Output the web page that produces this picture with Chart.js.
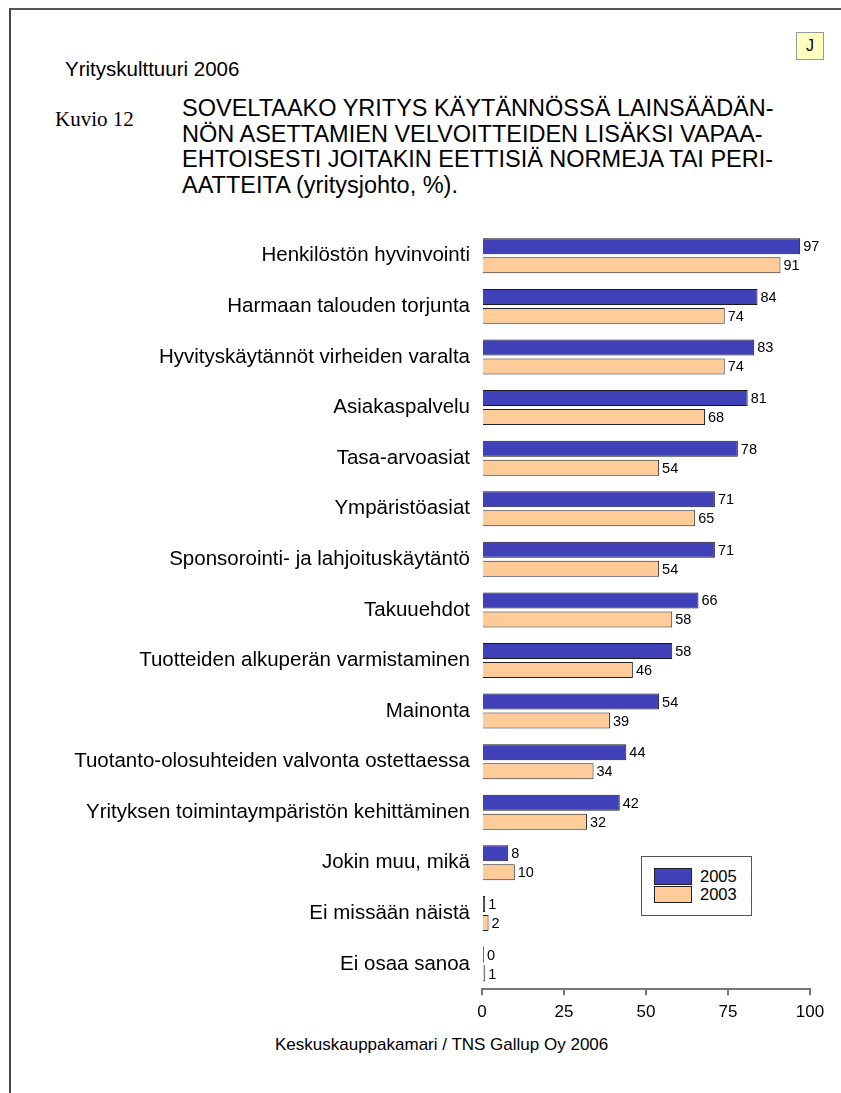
<!DOCTYPE html>
<html>
<head>
<meta charset="utf-8">
<script src="https://cdn.jsdelivr.net/npm/chart.js@4.4.1/dist/chart.umd.min.js"></script>
<style>
  html, body { margin: 0; padding: 0; background: #fff; }
  body { width: 841px; height: 1093px; position: relative; overflow: hidden;
         font-family: "Liberation Sans", Arial, sans-serif; color: #000; }
  .page { position: absolute; left: 9px; top: 8px; width: 840px; height: 1100px;
          border-top: 2px solid #555; border-left: 2px solid #444; }
  .txt { position: absolute; white-space: nowrap; }
  #series { left: 65px; top: 59px; font-size: 20.5px; line-height: 20.5px; }
  #kuvio { left: 55px; top: 109px; font-family: "Liberation Serif", "Times New Roman", serif;
           font-size: 21px; line-height: 21px; }
  #title { left: 182px; top: 96px; font-size: 23.5px; line-height: 25.7px; }
  #footer { left: 275px; top: 1036px; font-size: 17px; line-height: 17px; }
  #jbox { position: absolute; left: 796px; top: 32px; width: 26px; height: 26px;
          background: #ffffc0; border: 1px solid #999; font-size: 16px;
          line-height: 26px; text-align: center; }
  #legend { position: absolute; left: 641px; top: 856px; width: 109px; height: 58px;
            border: 1.5px solid #555; background: #fff; }
  .sw { position: absolute; left: 12px; width: 36px; height: 15px; border: 1px solid #222; }
  .lt { position: absolute; left: 58px; font-size: 16.5px; line-height: 17px; }
  #chart { position: absolute; left: 0; top: 0; }
</style>
</head>
<body>
<div class="page"></div>
<div class="txt" id="series">Yrityskulttuuri 2006</div>
<div class="txt" id="kuvio">Kuvio 12</div>
<div class="txt" id="title">SOVELTAAKO YRITYS KÄYTÄNNÖSSÄ LAINSÄÄDÄN-<br>NÖN ASETTAMIEN VELVOITTEIDEN LISÄKSI VAPAA-<br>EHTOISESTI JOITAKIN EETTISIÄ NORMEJA TAI PERI-<br>AATTEITA (yritysjohto, %).</div>
<div id="jbox">J</div>
<canvas id="chart" width="841" height="1030"></canvas>
<div id="legend">
  <div class="sw" style="top:11px;background:#4040b8"></div>
  <div class="lt" style="top:11px">2005</div>
  <div class="sw" style="top:29px;background:#ffcc99"></div>
  <div class="lt" style="top:29px">2003</div>
</div>
<div class="txt" id="footer">Keskuskauppakamari / TNS Gallup Oy 2006</div>

<script>
const categories = [
  'Henkilöstön hyvinvointi',
  'Harmaan talouden torjunta',
  'Hyvityskäytännöt virheiden varalta',
  'Asiakaspalvelu',
  'Tasa-arvoasiat',
  'Ympäristöasiat',
  'Sponsorointi- ja lahjoituskäytäntö',
  'Takuuehdot',
  'Tuotteiden alkuperän varmistaminen',
  'Mainonta',
  'Tuotanto-olosuhteiden valvonta ostettaessa',
  'Yrityksen toimintaympäristön kehittäminen',
  'Jokin muu, mikä',
  'Ei missään näistä',
  'Ei osaa sanoa'
];
const values2005 = [97, 84, 83, 81, 78, 71, 71, 66, 58, 54, 44, 42, 8, 1, 0];
const values2003 = [91, 74, 74, 68, 54, 65, 54, 58, 46, 39, 34, 32, 10, 2, 1];
const xTicks = [0, 25, 50, 75, 100];

const fontFamily = '"Liberation Sans", Arial, sans-serif';

// arvot palkkien perään
const valueLabels = {
  id: 'valueLabels',
  afterDatasetsDraw(chart) {
    const ctx = chart.ctx;
    ctx.save();
    ctx.font = '14.5px ' + fontFamily;
    ctx.fillStyle = '#000';
    ctx.textAlign = 'left';
    ctx.textBaseline = 'middle';
    chart.data.datasets.forEach((ds, i) => {
      chart.getDatasetMeta(i).data.forEach((bar, j) => {
        ctx.fillText(ds.data[j], bar.x + 3, bar.y + 1);
      });
    });
    ctx.restore();
  }
};

new Chart(document.getElementById('chart'), {
  type: 'bar',
  data: {
    labels: categories,
    datasets: [
      {
        label: '2005',
        data: values2005,
        backgroundColor: '#4040b8',
        borderColor: '#1a1a1a',
        borderWidth: 1,
        minBarLength: 2
      },
      {
        label: '2003',
        data: values2003,
        backgroundColor: '#ffcc99',
        borderColor: '#222',
        borderWidth: 1,
        minBarLength: 2
      }
    ]
  },
  options: {
    indexAxis: 'y',
    responsive: false,
    animation: false,
    categoryPercentage: 0.751,
    barPercentage: 0.842,
    layout: { padding: { top: 230.5, right: 31, left: 0, bottom: 0 } },
    plugins: {
      legend: { display: false },
      tooltip: { enabled: false }
    },
    scales: {
      y: {
        grid: { display: false, drawTicks: false },
        border: { display: false },
        ticks: {
          color: '#000',
          padding: 12,
          font: { family: fontFamily, size: 20.5 }
        },
        afterFit: (scale) => { scale.width = 482; }
      },
      x: {
        min: xTicks[0],
        max: xTicks[xTicks.length - 1],
        afterBuildTicks: (scale) => { scale.ticks = xTicks.map(v => ({ value: v })); },
        grid: {
          drawOnChartArea: false,
          drawTicks: true,
          tickLength: 6,
          color: '#777',
          lineWidth: 2
        },
        border: { display: true, color: '#777', width: 2 },
        ticks: {
          color: '#000',
          padding: 7,
          font: { family: fontFamily, size: 17 }
        },
        afterFit: (scale) => { scale.height = 40.7; }
      }
    }
  },
  plugins: [valueLabels]
});
</script>
</body>
</html>
